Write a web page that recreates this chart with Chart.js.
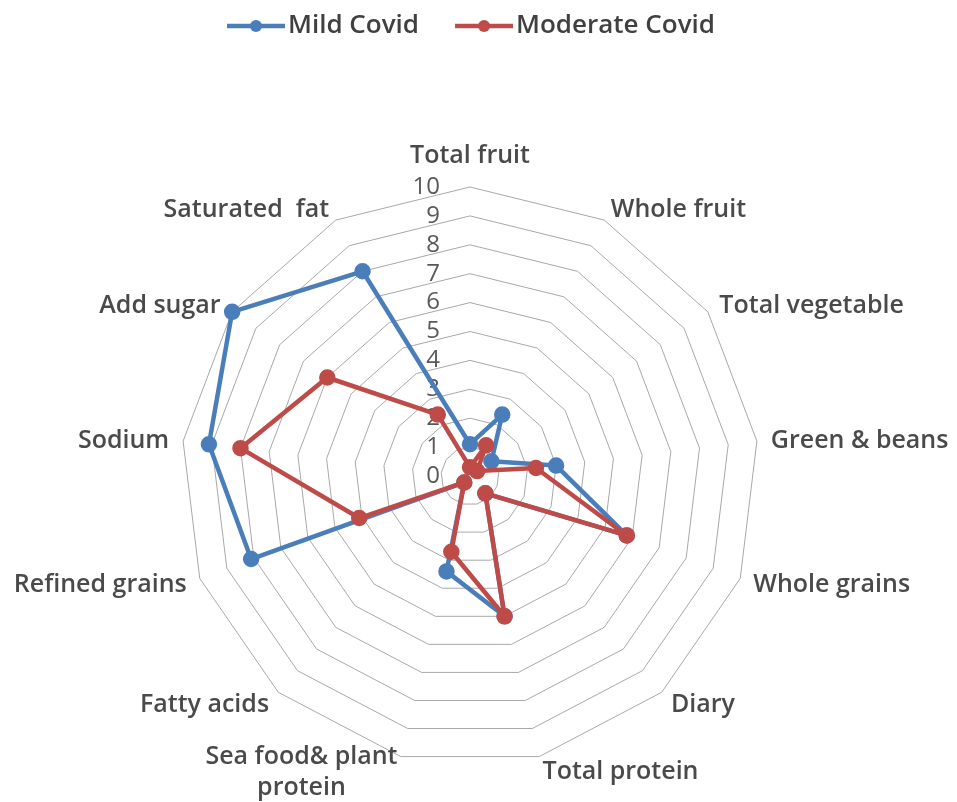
<!DOCTYPE html>
<html>
<head>
<meta charset="utf-8">
<title>Diet quality radar</title>
<script src="https://cdn.jsdelivr.net/npm/chart.js@4.4.0/dist/chart.umd.min.js"></script>
<style>
    body { margin: 0; background: #ffffff; }
    #wrap { width: 957px; height: 802px; }
</style>
</head>
<body>
<div id="wrap"><canvas id="radarChart" width="957" height="802"></canvas></div>
<script>
// Chart data
const categories = [
    'Total fruit', 'Whole fruit', 'Total vegetable', 'Green & beans', 'Whole grains',
    'Diary', 'Total protein', ['Sea food& plant', 'protein'], 'Fatty acids',
    'Refined grains', 'Sodium', 'Add sugar', 'Saturated  fat'
];
const mildCovid = [1.1, 2.4, 0.9, 3.0, 5.8, 0.8, 5.0, 3.4, 0.3, 8.1, 9.1, 10.0, 8.0];
const moderateCovid = [0.3, 1.2, 0.3, 2.3, 5.8, 0.8, 5.0, 2.7, 0.3, 4.1, 8.0, 6.0, 2.4];
const tickValues = [0, 1, 2, 3, 4, 5, 6, 7, 8, 9, 10];

const BLUE = '#4A7EBB';
const RED = '#BE4B48';
const LABEL_FONT = '600 25px "Open Sans"';
const TICK_FONT = '24px "Open Sans"';

// legend marker: line with a dot, like the office-style legend
function legendMarker(color) {
    const c = document.createElement('canvas');
    c.width = 94;
    c.height = 16;
    const g = c.getContext('2d');
    g.strokeStyle = color;
    g.lineWidth = 4.5;
    g.beginPath();
    g.moveTo(36, 8);
    g.lineTo(94, 8);
    g.stroke();
    g.fillStyle = color;
    g.beginPath();
    g.arc(65, 8, 6, 0, Math.PI * 2);
    g.fill();
    return c;
}
const markers = [legendMarker(BLUE), legendMarker(RED)];

// empty band between the legend and the plot, plus a small legend nudge
const legendGapPlugin = {
    id: 'legendGap',
    beforeInit(chart) {
        Chart.layouts.addBox(chart, {
            position: 'top',
            weight: 0,
            fullSize: true,
            options: {},
            left: 0, top: 0, right: 0, bottom: 0, width: 0, height: 0,
            isHorizontal() { return true; },
            getPadding() { return { left: 0, top: 0, right: 0, bottom: 0 }; },
            update(maxWidth) { this.width = maxWidth; this.height = 102; },
            draw() {}
        });
    },
    afterLayout(chart) {
        chart.legend.left -= 12;
        chart.legend.right -= 12;
    }
};

// value labels sit left of the vertical axis, right aligned
const tickLabelPlugin = {
    id: 'tickLabels',
    beforeDatasetsDraw(chart) {
        const scale = chart.scales.r;
        const ctx = chart.ctx;
        ctx.save();
        ctx.font = TICK_FONT;
        ctx.fillStyle = '#595959';
        ctx.textAlign = 'right';
        ctx.textBaseline = 'middle';
        tickValues.forEach(v => {
            const d = scale.getDistanceFromCenterForValue(v);
            ctx.fillText(String(v), scale.xCenter - 30, scale.yCenter - d);
        });
        ctx.restore();
    }
};

// category labels placed around the outer ring
const categoryLabelPlugin = {
    id: 'categoryLabels',
    afterDatasetsDraw(chart) {
        const scale = chart.scales.r;
        const ctx = chart.ctx;
        const capH = 18;
        const lineH = 31;
        ctx.save();
        ctx.font = LABEL_FONT;
        ctx.fillStyle = '#4a4a4a';
        ctx.textAlign = 'left';
        ctx.textBaseline = 'alphabetic';
        categories.forEach((label, i) => {
            const lines = [].concat(label);
            const angle = scale.getIndexAngle(i);
            const sin = Math.sin(angle);
            const cos = Math.cos(angle);
            const pos = scale.getPointPosition(i, scale.drawingArea + 14);
            const w = Math.max(...lines.map(l => ctx.measureText(l).width));
            let left;
            if (Math.abs(sin) < 0.05) left = pos.x - w / 2;
            else if (sin > 0) left = pos.x;
            else left = pos.x - w;
            const blockH = capH + (lines.length - 1) * lineH;
            let top;
            if (Math.abs(sin) < 0.05 && cos > 0) top = pos.y - 10 - blockH;
            else top = pos.y - blockH / 2;
            lines.forEach((line, k) => {
                const lw = ctx.measureText(line).width;
                ctx.fillText(line, left + (w - lw) / 2, top + capH + k * lineH);
            });
        });
        ctx.restore();
    }
};

const ctx = document.getElementById('radarChart').getContext('2d');
const myChart = new Chart(ctx, {
    type: 'radar',
    data: {
        labels: categories,
        datasets: [{
            label: 'Mild Covid',
            data: mildCovid,
            borderColor: BLUE,
            backgroundColor: BLUE,
            pointBackgroundColor: BLUE,
            pointBorderColor: BLUE,
            borderWidth: 4.5,
            pointRadius: 6,
            fill: false,
            order: 1
        }, {
            label: 'Moderate Covid',
            data: moderateCovid,
            borderColor: RED,
            backgroundColor: RED,
            pointBackgroundColor: RED,
            pointBorderColor: RED,
            borderWidth: 4.5,
            pointRadius: 6,
            fill: false,
            order: 0
        }]
    },
    options: {
        responsive: false,
        animation: false,
        devicePixelRatio: 1,
        events: [],
        layout: {
            padding: { left: 181, right: 198, top: 3, bottom: 0 }
        },
        elements: {
            line: { tension: 0, borderJoinStyle: 'round' }
        },
        plugins: {
            tooltip: { enabled: false },
            legend: {
                position: 'top',
                labels: {
                    usePointStyle: true,
                    pointStyleWidth: 74,
                    padding: 10,
                    color: '#404040',
                    font: { family: 'Open Sans', size: 26, weight: '600' },
                    sort: (a, b) => a.datasetIndex - b.datasetIndex,
                    generateLabels(chart) {
                        const items = Chart.defaults.plugins.legend.labels.generateLabels(chart);
                        items.forEach(it => { it.pointStyle = markers[it.datasetIndex]; });
                        return items;
                    }
                }
            }
        },
        scales: {
            r: {
                min: 0,
                max: 10,
                beginAtZero: true,
                ticks: { stepSize: 1, display: false },
                angleLines: { display: false },
                grid: { color: '#a8a8a8', lineWidth: 1 },
                pointLabels: { display: false }
            }
        }
    },
    plugins: [legendGapPlugin, tickLabelPlugin, categoryLabelPlugin]
});
</script>
</body>
</html>
